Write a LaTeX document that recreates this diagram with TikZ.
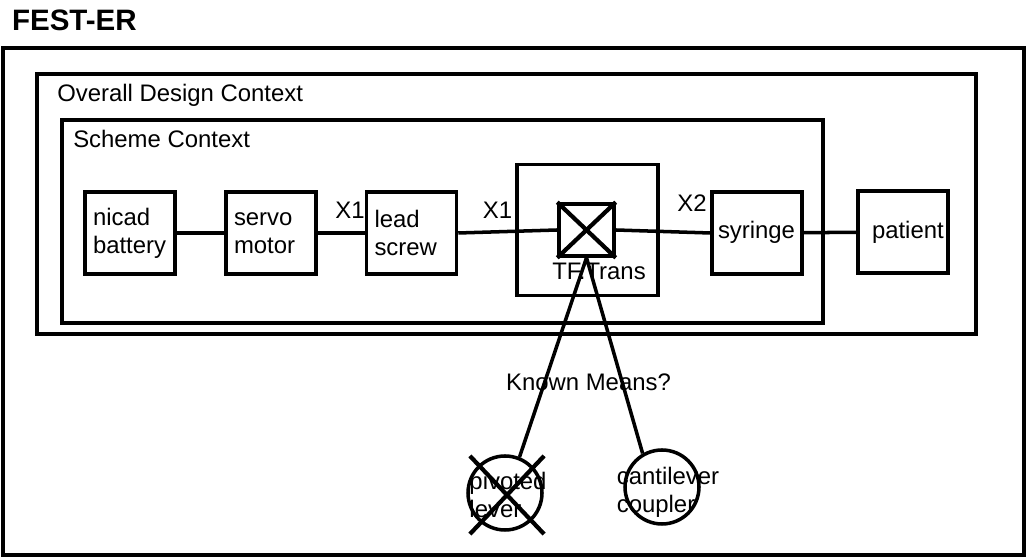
\documentclass[tikz,border=0pt]{standalone}
\usepackage{fontspec}
\setmainfont{Liberation Sans}
\usetikzlibrary{shapes.misc}

\begin{document}
\begin{tikzpicture}[
  every node/.style={font=\fontsize{17}{20}\selectfont},
  frame/.style={draw, line width=2.5pt},
  cbox/.style={draw, line width=2.5pt, minimum height=2.05cm, text width=1.85cm,
    inner sep=0.2cm, align=left},
  means/.style={circle, draw, line width=2.5pt, minimum size=1.85cm, inner sep=0pt},
  link/.style={line width=2.5pt}
]
  \useasboundingbox (0,0) rectangle (25.65,13.925);

  % Title
  \node[font=\fontsize{21}{24}\selectfont\bfseries] (title) at (1.86,13.425) {FEST-ER};

  % Context frames
  \draw[frame] (0.075,12.725) rectangle (25.6,0.05);
  \draw[frame] (0.925,12.075) rectangle (24.4,5.575);
  \node[anchor=base west, inner sep=0pt] (overall) at (1.425,11.375) {Overall Design Context};
  \draw[frame] (1.55,10.925) rectangle (20.575,5.85);
  \node[anchor=base west, inner sep=0pt] (scheme) at (1.825,10.225) {Scheme Context};

  % Nodes
  \node[cbox] (nicad) at (3.25,8.1) {nicad\\battery};
  \node[cbox] (servo) at (6.775,8.1) {servo\\motor};
  \node[cbox] (lead) at (10.2875,8.1) {lead\\screw};

  \node[draw, line width=2.5pt, minimum width=3.525cm, minimum height=3.275cm] (tf) at (14.6875,8.175) {};
  \node[draw, line width=2.5pt, minimum width=1.375cm, minimum height=1.3cm] (xbox) at (14.6625,8.175) {};
  \draw[line width=3pt] (xbox.north west) -- (xbox.south east);
  \draw[line width=3pt] (xbox.north east) -- (xbox.south west);
  \node (tflabel) at (14.975,7.15) {TF.Trans};

  \node[cbox, inner xsep=0.15cm, text width=1.95cm] (syringe) at (18.925,8.1) {\raisebox{0.15cm}{syringe}};
  \node[cbox, inner xsep=0.35cm, text width=1.55cm] (patient) at (22.575,8.125) {\raisebox{0.12cm}{patient}};

  \node[means] (piv) at (12.625,1.6) {};
  \node[means] (cant) at (16.55,1.75) {};
  \node[align=left] (pivtext) at (12.7,1.55) {pivoted\\lever};
  \node[align=left] (canttext) at (16.7,1.62) {cantilever\\coupler};
  \node[cross out, draw, line width=3pt, minimum width=1.75cm, minimum height=1.85cm] (pivx) at (12.675,1.55) {};

  % Edges
  \draw[link] (nicad) -- (servo);
  \draw[link] (servo) -- (lead);
  \draw[link] (lead.east) -- (xbox.west);
  \draw[link] (xbox.east) -- (syringe.west);
  \draw[link] (syringe) -- (patient);

  \draw[link] (xbox.south) -- (piv.68);
  \draw[link] (xbox.south) -- (cant.120);

  % Labels
  \node (x1a) at (8.75,8.675) {X1};
  \node (x1b) at (12.4375,8.675) {X1};
  \node (x2) at (17.3,8.85) {X2};
  \node (known) at (14.7125,4.375) {Known Means?};
\end{tikzpicture}
\end{document}
